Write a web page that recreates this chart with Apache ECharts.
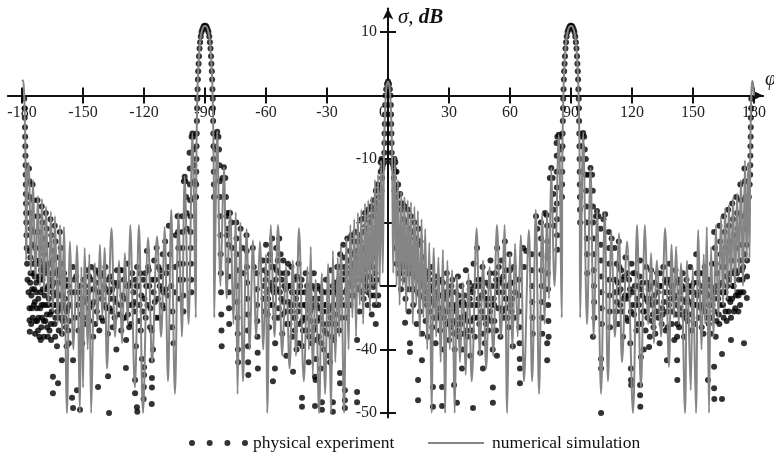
<!DOCTYPE html>
<html>
<head>
<meta charset="utf-8">
<script src="https://cdn.jsdelivr.net/npm/echarts@6.0.0/dist/echarts.min.js"></script>
<style>
html, body { margin: 0; padding: 0; background: #fff; }
#chart { width: 774px; height: 462px; }
</style>
</head>
<body>
<div id="chart"></div>
<script>
// tick and label positions
var xTickValues = [-180, -150, -120, -90, -60, -30, 30, 60, 90, 120, 150, 180];
var xLabelValues = [-180, -150, -120, -90, -60, -30, 0, 30, 60, 90, 120, 150, 180];
var yTickValues = [10, -10, -20, -30, -40, -50];

// numerical simulation, phi (deg) / sigma (dB)
var simLeft = [
  [-180, 2.2], [-179.5, 2.4], [-179.0, 0.5], [-178.6, -4], [-178.3, -10], [-178.0, -26],
  [-177.3, -12], [-176.6, -10.6], [-175.7, -28], [-174.6, -13.3], [-173.4, -29],
  [-172.2, -15.8], [-171.2, -30], [-170.2, -16.3], [-169.2, -31], [-168.2, -17.5], [-167.0, -33],
  [-165.8, -18.3], [-164.8, -34], [-163.8, -19], [-162.5, -36], [-161.3, -20.4], [-160.3, -38],
  [-159.4, -20.7], [-157.9, -50], [-156.4, -23], [-154.7, -40], [-153.0, -23.6], [-151.6, -50],
  [-150.8, -27], [-150.0, -46], [-149.2, -24], [-147.7, -40], [-146.9, -25], [-146.0, -50],
  [-144.2, -26.4], [-142.9, -36], [-141.7, -23.5], [-140.5, -35], [-139.4, -24], [-138.2, -43],
  [-136.0, -20.9], [-134.2, -38], [-132.3, -26], [-130.8, -39], [-129.4, -24.8], [-128.0, -36],
  [-126.8, -20.4], [-124.5, -46], [-122.5, -20.4], [-120.5, -50], [-118.0, -22.4], [-116.0, -42],
  [-113.6, -22.2], [-111.6, -38], [-109.9, -20.7], [-108.2, -45], [-106.6, -18], [-104.8, -47],
  [-103.0, -18.5], [-101.4, -38], [-100.0, -12.8], [-98.1, -36], [-96.2, -6], [-94.55, -35],
  [-94.3, -12], [-94.05, -5], [-93.75, 0], [-93.4, 3.5], [-92.9, 6.5], [-92.3, 8.8], [-91.6, 10.1],
  [-90.8, 10.8], [-90, 11], [-89.2, 10.8], [-88.4, 10.1], [-87.7, 8.8], [-87.1, 6.5], [-86.6, 3.5],
  [-86.25, 0], [-85.95, -5], [-85.7, -12], [-85.45, -35],
  [-84.0, -5.7], [-82.4, -30], [-80.7, -11.3], [-79.3, -32], [-77.7, -18], [-76.0, -36],
  [-74.9, -18.4], [-74.0, -47], [-72.6, -20], [-71.3, -45], [-69.5, -21], [-68.0, -40],
  [-66.4, -22.8], [-64.8, -38], [-63.0, -23], [-61.3, -40], [-60.0, -25], [-59.4, -50],
  [-57.6, -20.4], [-55.8, -38], [-54.1, -20.4], [-52.0, -41], [-50.2, -27], [-48.4, -43],
  [-46.8, -26], [-45.3, -41], [-43.8, -20.9], [-41.4, -45], [-39.6, -27], [-38.9, -40],
  [-38.0, -23.8], [-37.0, -44], [-35.6, -29], [-33.9, -50], [-32.5, -28], [-31.0, -47],
  [-29.5, -26.5], [-28.0, -50], [-27.1, -24.5], [-25.9, -42], [-24.7, -25.5], [-24.0, -38],
  [-23.2, -23.8], [-21.6, -50], [-20.4, -22.5], [-19.4, -40], [-18.5, -20.4], [-17.5, -35],
  [-16.6, -19.5], [-15.7, -38], [-14.8, -18.5], [-13.9, -33], [-13.1, -18], [-12.2, -36],
  [-11.3, -17], [-10.5, -31], [-9.7, -16.5], [-8.9, -34], [-8.1, -16], [-7.3, -30],
  [-6.4, -13.3], [-5.7, -33], [-4.9, -12.5], [-4.1, -30], [-3.4, -10.2], [-2.6, -28],
  [-2.0, -9], [-1.6, -4], [-1.1, 0], [-0.6, 1.6], [0, 2.2]
];

var simRight = [
  [0.6, 1.6], [1.1, 0], [1.6, -4], [2.0, -9], [2.6, -28],
  [3.4, -9.7], [4.2, -30], [4.9, -13.3], [5.7, -33], [6.5, -15.2], [7.3, -30],
  [8.1, -16], [8.9, -34], [9.7, -16.5], [10.5, -31], [11.3, -16.8], [12.2, -36],
  [13.0, -17.5], [13.9, -33], [14.7, -18.2], [15.6, -38], [16.5, -19.5], [17.4, -35],
  [18.3, -21], [19.3, -40], [20.3, -23.2], [21.5, -50], [22.5, -24], [23.7, -38],
  [24.8, -25.5], [25.9, -42], [27.0, -24.3], [28.1, -50], [29.2, -26], [30.4, -40],
  [31.5, -27.5], [32.8, -50], [34.0, -28.5], [35.4, -42], [36.8, -29.4], [38.2, -44],
  [39.6, -28], [41.2, -45], [43.6, -20.9], [45.2, -41], [46.7, -26], [48.3, -43],
  [50.0, -27], [51.7, -41], [53.6, -20.4], [55.5, -38], [57.3, -20.4], [58.6, -50],
  [60.0, -25], [61.2, -40], [62.5, -23.3], [63.8, -38], [65.3, -22], [66.9, -45],
  [69.3, -21.2], [70.9, -45], [72.7, -18], [74.3, -47], [75.9, -18.5], [77.0, -36],
  [78.2, -18.3], [79.2, -32], [80.3, -11.4], [81.9, -30], [84.0, -6.2], [85.45, -35],
  [85.7, -12], [85.95, -5], [86.25, 0], [86.6, 3.5], [87.1, 6.5], [87.7, 8.8], [88.4, 10.1],
  [89.2, 10.8], [90, 11], [90.8, 10.8], [91.6, 10.1], [92.3, 8.8], [92.9, 6.5], [93.4, 3.5],
  [93.75, 0], [94.05, -5], [94.3, -12], [94.55, -35],
  [96.0, -5.9], [97.9, -36], [99.6, -11.4], [101.2, -38], [102.8, -18], [104.8, -47],
  [106.6, -18.5], [108.2, -45], [109.9, -21.5], [111.6, -38], [113.6, -21.7], [115.1, -42],
  [117.6, -23], [120.5, -50], [122.5, -20.4], [124.4, -46], [126.4, -20.4], [128.0, -36],
  [129.4, -24.8], [130.8, -39], [132.3, -26], [134.3, -38], [136.3, -20.9], [138.2, -42.7],
  [139.5, -23.5], [140.6, -35], [141.7, -23.8], [143.0, -36], [144.1, -26.4], [146.1, -50],
  [147.1, -26], [148.9, -46.4], [149.9, -27], [151.5, -50], [152.6, -21.2], [154.2, -40],
  [155.3, -25], [156.0, -36], [156.8, -20.7], [157.9, -50], [158.9, -23.8], [160.1, -38],
  [161.3, -20.4], [162.5, -35], [163.8, -19.1], [164.8, -33], [165.8, -17.7], [166.8, -32],
  [167.7, -17.2], [168.7, -30], [169.7, -16.1], [170.7, -31], [171.7, -15.4], [172.6, -28],
  [173.6, -13.3], [174.6, -30], [175.6, -10.2], [176.4, -26], [177.2, -10.5], [177.8, -25.6],
  [178.2, -9], [178.6, -1], [179.1, 2.3], [179.6, 1.8], [180, 0]
];

// physical experiment: dots along the main lobes at 0, +-90, +-180
var expLobes = [
  [-178.9, -0.5], [-178.75, -2], [-178.65, -3.5], [-178.55, -5], [-178.45, -6.5], [-178.4, -8],
  [-178.3, -9.5], [-178.25, -11], [-178.2, -12.5], [-178.15, -14], [-178.1, -15.5], [-178.05, -17],
  [-178.0, -18.5], [-177.9, -20], [-177.8, -22], [-177.7, -24], [-177.5, -26.5], [-177.3, -29],
  [-90.3, 11], [-90.8, 10.8], [-91.3, 10.4], [-91.7, 10], [-92.1, 9.3], [-92.4, 8.4], [-92.7, 7.4],
  [-92.95, 6.2], [-93.15, 5], [-93.35, 3.8], [-93.5, 2.5], [-93.65, 1], [-93.8, -0.5], [-93.9, -2],
  [-94.0, -4], [-94.1, -6], [-94.17, -8], [-94.23, -10], [-94.3, -12], [-94.35, -14], [-94.4, -16],
  [-89.7, 11], [-89.2, 10.8], [-88.7, 10.4], [-88.3, 10], [-87.9, 9.3], [-87.6, 8.4], [-87.3, 7.4],
  [-87.05, 6.2], [-86.85, 5], [-86.65, 3.8], [-86.5, 2.5], [-86.35, 1], [-86.2, -0.5], [-86.1, -2],
  [-86.0, -4], [-85.9, -6], [-85.83, -8], [-85.77, -10], [-85.7, -12], [-85.65, -14], [-85.6, -16],
  [-1.85, -10.5], [-1.8, -9], [-1.75, -7.5], [-1.7, -6], [-1.6, -4.5], [-1.5, -3], [-1.4, -1.5],
  [-1.2, 0], [-0.9, 1], [-0.5, 1.8], [0, 2.2], [0.5, 1.8], [0.9, 1], [1.2, 0], [1.4, -1.5],
  [1.5, -3], [1.6, -4.5], [1.7, -6], [1.75, -7.5], [1.8, -9], [1.85, -10.5],
  [-3.6, -10.5], [-3.2, -10], [-2.8, -11.5], [2.8, -11.5], [3.2, -10], [3.6, -10.5], [4.2, -12],
  [89.7, 11], [89.2, 10.8], [88.7, 10.4], [88.3, 10], [87.9, 9.3], [87.6, 8.4], [87.3, 7.4],
  [87.05, 6.2], [86.85, 5], [86.65, 3.8], [86.5, 2.5], [86.35, 1], [86.2, -0.5], [86.1, -2],
  [86.0, -4], [85.9, -6], [85.83, -8], [85.77, -10], [85.7, -12], [85.65, -14], [85.6, -16],
  [90.3, 11], [90.8, 10.8], [91.3, 10.4], [91.7, 10], [92.1, 9.3], [92.4, 8.4], [92.7, 7.4],
  [92.95, 6.2], [93.15, 5], [93.35, 3.8], [93.5, 2.5], [93.65, 1], [93.8, -0.5], [93.9, -2],
  [94.0, -4], [94.1, -6], [94.17, -8], [94.23, -10], [94.3, -12], [94.35, -14], [94.4, -16],
  [94.45, -18], [94.5, -20],
  [178.7, -0.5], [178.6, -2], [178.5, -3.5], [178.45, -5], [178.4, -6.5], [178.3, -8],
  [178.25, -9.5], [178.2, -11], [178.15, -12.5], [177.9, -14], [177.5, -16], [177.0, -18]
];

var expLeft = [
  [-176.6, -11.5], [-176.4, -13.5], [-176.2, -16], [-176.0, -18.5], [-175.7, -21],
  [-174.8, -14], [-174.5, -16.5], [-174.2, -19], [-173.9, -21.5], [-173.5, -24],
  [-172.4, -16.5], [-172.0, -19], [-171.7, -21.5], [-171.3, -24],
  [-170.3, -17.5], [-169.9, -20], [-169.5, -22.5], [-169.1, -25],
  [-168.3, -18.5], [-167.9, -21], [-167.5, -23.5], [-166.0, -19.5], [-165.6, -22], [-165.2, -24.5],
  [-163.9, -20.5], [-163.5, -23], [-163.1, -25.5], [-161.4, -21.5], [-161.0, -24], [-160.6, -26.5],
  [-176.8, -31], [-176.3, -33.5], [-175.8, -28], [-175.5, -36], [-175.0, -30.5], [-174.6, -26.5],
  [-174.2, -33], [-173.8, -28.5], [-173.3, -35.5], [-172.9, -31], [-172.5, -26.5], [-172.1, -37],
  [-171.6, -29], [-171.1, -33.5], [-170.7, -27.5], [-170.2, -35], [-169.8, -30.5], [-169.2, -38],
  [-168.7, -28], [-168.2, -33], [-167.7, -36.5], [-167.2, -30], [-166.7, -26.5], [-166.2, -34.5],
  [-165.7, -38.5], [-165.1, -31], [-164.5, -28], [-164.0, -36], [-163.4, -33], [-162.8, -39.5],
  [-162.2, -29.5], [-161.6, -35], [-161.0, -31.5], [-160.3, -37.5], [-159.7, -33], [-159.0, -30],
  [-158.4, -36.5], [-157.7, -33.5], [-157.0, -39], [-156.3, -31],
  [-176.5, -24.5], [-176.0, -29.5], [-175.2, -33.5], [-174.9, -23.5], [-174.0, -30.5], [-173.6, -37.5],
  [-173.1, -26], [-172.7, -33.5], [-172.2, -28.5], [-171.9, -35], [-171.4, -26], [-170.9, -31],
  [-170.5, -36.5], [-170.0, -29], [-169.5, -33], [-169.0, -26.5], [-168.5, -35.5], [-168.0, -30.5],
  [-167.5, -27], [-167.0, -33], [-166.5, -37], [-166.0, -29], [-165.4, -34], [-164.9, -26],
  [-164.2, -31.5], [-163.7, -38], [-163.1, -28], [-162.5, -34], [-162.0, -31.5], [-161.3, -28.5],
  [-160.7, -33.5], [-160.0, -35.5], [-159.3, -28], [-158.8, -32], [-158.1, -39.5], [-157.4, -30],
  [-156.8, -35.5],
  [-176.3, -35.4], [-176.2, -37.2], [-170.8, -38.5], [-164.8, -44.3], [-164.8, -46.9], [-162.3, -45.3],
  [-160.4, -41.7], [-155.4, -47.6], [-154.9, -49.2], [-154.9, -41.7], [-153.0, -46.4], [-151.5, -49.5],
  [-142.6, -45.9], [-137.2, -50], [-137.7, -44.2], [-128.9, -42.9], [-124.4, -44.8], [-124.4, -46.9],
  [-123.5, -49.1], [-123.3, -49.8], [-120.0, -42.8], [-120.0, -44], [-120.1, -45.9], [-120.2, -47.8],
  [-116.1, -44.5], [-116.1, -46], [-116.2, -48.6], [-116.2, -41.7],
  [-155.0, -27], [-154.5, -31], [-154.0, -35], [-153.4, -28.5], [-152.8, -33], [-152.2, -37],
  [-151.6, -30], [-151.0, -34.5], [-150.4, -39], [-149.8, -29], [-149.2, -32.5], [-148.6, -36],
  [-148.0, -27.5], [-147.4, -31], [-146.8, -35.5], [-146.2, -29], [-145.6, -33], [-145.0, -38],
  [-144.4, -30.5], [-143.8, -27.5], [-143.2, -34], [-142.6, -31], [-142.0, -37], [-141.4, -28.5],
  [-140.8, -32], [-140.2, -35.5], [-139.6, -30], [-139.0, -27], [-138.4, -33.5], [-137.8, -37.5],
  [-137.2, -31], [-136.6, -28.5], [-136.0, -34], [-135.4, -36.5], [-134.8, -29.5], [-134.2, -32],
  [-133.6, -40], [-133.0, -30], [-132.4, -34.5], [-131.8, -27.5], [-131.2, -37], [-130.6, -31.5],
  [-130.0, -29], [-129.4, -35], [-128.8, -38.5], [-128.2, -26.5], [-127.6, -30], [-127.0, -33],
  [-126.4, -36], [-125.8, -28], [-125.2, -31], [-124.6, -34], [-124.0, -39.5], [-123.4, -27],
  [-122.8, -30], [-122.2, -33], [-121.6, -37], [-121.0, -41.5], [-120.4, -29], [-119.8, -32],
  [-119.2, -35], [-118.6, -24.5], [-118.0, -27], [-117.4, -30], [-116.8, -33.5], [-116.2, -37],
  [-115.6, -40], [-115.0, -26], [-114.4, -29], [-113.8, -24], [-113.2, -32], [-112.6, -35],
  [-112.0, -27.5], [-111.4, -30.5], [-110.8, -25], [-110.2, -33.5], [-109.6, -23], [-109.0, -28],
  [-108.4, -31.5], [-107.8, -20.5], [-107.2, -25], [-106.6, -30], [-106.0, -34],
  [-149.5, -35], [-148.3, -32], [-147.0, -28.5], [-145.3, -30.5], [-144.0, -36], [-142.3, -28],
  [-141.0, -35], [-139.3, -33], [-137.5, -29], [-136.3, -32], [-134.5, -35], [-133.3, -27.5],
  [-131.5, -33], [-130.3, -35], [-128.5, -30], [-127.3, -36.5], [-125.5, -33], [-124.3, -29],
  [-122.5, -35.5], [-121.3, -31.5], [-119.5, -28], [-118.3, -33], [-117.0, -36.5], [-115.3, -31],
  [-114.0, -35], [-112.3, -30], [-111.0, -33], [-109.3, -30.5], [-108.0, -27],
  [-106.2, -36.5], [-105.5, -39], [-104.4, -22], [-104.6, -27], [-104.8, -31],
  [-103.5, -19], [-103.3, -21.5], [-103.1, -24], [-102.9, -26.5], [-102.6, -29], [-102.4, -32],
  [-101.2, -19], [-101.1, -21.5], [-101.0, -24], [-100.9, -26.5], [-100.8, -29], [-100.7, -31.5], [-100.6, -34],
  [-100.4, -13.5], [-100.0, -12.8], [-99.6, -13.5], [-99.3, -16], [-99.1, -18.5], [-98.9, -21],
  [-97.6, -9], [-97.5, -11.5], [-97.4, -14], [-97.3, -16.5], [-97.2, -19], [-97.1, -21.5],
  [-97.0, -24], [-96.9, -26.5], [-96.8, -29], [-96.7, -31],
  [-96.6, -6.5], [-96.2, -6], [-95.8, -6.5], [-95.5, -8.5], [-95.3, -11], [-95.1, -13.5], [-94.9, -16],
  [-84.9, -8.5], [-84.6, -6.5], [-84.0, -5.7], [-83.4, -6.5], [-83.1, -8.5], [-82.9, -11],
  [-82.7, -13.5], [-82.6, -16], [-82.5, -19], [-82.4, -22], [-82.3, -25], [-82.2, -28],
  [-82.1, -31], [-82.0, -34.5], [-81.9, -37], [-81.8, -39.5],
  [-81.4, -13], [-80.7, -11.3], [-80.0, -13], [-79.7, -16], [-79.4, -19], [-79.2, -22],
  [-78.8, -18.5], [-78.7, -21], [-78.6, -23.5], [-78.5, -26], [-78.4, -28.5], [-78.3, -31],
  [-78.2, -33.5], [-78.1, -36], [-77.7, -18.5], [-77.0, -20], [-76.6, -24],
  [-74.6, -20], [-74.5, -22.5], [-74.4, -25], [-74.3, -27.5], [-74.2, -30], [-74.1, -32.5],
  [-74.0, -35], [-73.9, -37.5], [-73.8, -40], [-73.7, -42],
  [-69.6, -22], [-69.5, -24.5], [-69.4, -27], [-69.3, -29.5], [-69.2, -32], [-69.1, -34.5],
  [-69.0, -37], [-68.9, -39.5], [-68.8, -42], [-68.7, -44],
  [-64.6, -28], [-64.5, -30.5], [-64.4, -33], [-64.3, -35.5], [-64.2, -38], [-64.1, -40.5], [-64.0, -43],
  [-72.5, -21], [-71.5, -24], [-71.0, -28], [-66.5, -24], [-66.0, -27],
  [-61.5, -26], [-61.0, -30], [-60.5, -34], [-60.0, -23.5], [-59.5, -28], [-59.0, -32],
  [-58.5, -36.5], [-58.0, -25], [-57.5, -29.5], [-57.0, -22.5], [-56.5, -33], [-56.0, -27],
  [-55.5, -39], [-55.0, -24], [-54.5, -30.5], [-54.0, -35], [-53.5, -22.5], [-53.0, -28],
  [-52.5, -32], [-52.0, -37.5], [-51.5, -26], [-51.0, -30], [-50.5, -34], [-50.0, -41],
  [-49.5, -28], [-49.0, -32.5], [-48.5, -36], [-48.0, -30], [-47.5, -27], [-47.0, -38],
  [-46.5, -33], [-46.0, -29], [-45.5, -35], [-45.0, -40], [-44.5, -31], [-44.0, -26.5],
  [-43.5, -36], [-43.0, -33], [-42.5, -29], [-42.0, -39.5], [-41.5, -35], [-41.0, -31],
  [-40.5, -28], [-40.0, -37], [-39.5, -33.5], [-39.0, -42], [-38.5, -30], [-38.0, -35.5],
  [-37.5, -39], [-37.0, -32], [-36.5, -28], [-36.0, -36.5], [-35.5, -41.5], [-35.0, -33],
  [-34.5, -30], [-34.0, -38], [-33.5, -35], [-33.0, -43], [-32.5, -31], [-32.0, -36],
  [-31.5, -40], [-31.0, -33], [-30.5, -29], [-30.0, -37.5], [-29.5, -34], [-29.0, -41],
  [-28.5, -31], [-28.0, -27.5], [-27.5, -36], [-27.0, -33], [-26.5, -38.5], [-26.0, -29.5],
  [-25.5, -34.5], [-25.0, -27], [-24.5, -31.5], [-24.0, -37], [-23.5, -25], [-23.0, -29],
  [-22.5, -33], [-22.0, -23.5], [-21.5, -27], [-21.0, -31], [-20.5, -35], [-20.0, -22.5],
  [-19.5, -26], [-19.0, -29.5], [-18.5, -33], [-18.0, -22], [-17.5, -25], [-17.0, -28],
  [-16.5, -31.5], [-16.0, -21.5], [-15.5, -24.5], [-15.0, -27.5], [-14.5, -30.5], [-14.0, -34],
  [-13.5, -23], [-13.0, -26], [-12.5, -29], [-12.0, -32], [-11.5, -24], [-11.0, -27],
  [-10.5, -30], [-10.0, -33], [-9.5, -25.5], [-9.0, -28.5], [-8.5, -31.5], [-8.0, -34.5],
  [-7.5, -27], [-7.0, -30], [-6.5, -33], [-6.0, -36], [-5.5, -29], [-4.8, -31.5], [-4.8, -33],
  [-60.8, -27.5], [-59.8, -31], [-58.8, -26], [-57.8, -33], [-56.8, -30], [-55.8, -35],
  [-54.8, -27.5], [-53.8, -33.5], [-52.8, -25], [-51.8, -34.5], [-50.8, -28], [-49.8, -36],
  [-48.8, -30], [-47.8, -34], [-46.8, -31], [-45.8, -37], [-44.8, -28.5], [-43.8, -39],
  [-42.8, -31], [-41.8, -37], [-40.8, -33], [-39.8, -30], [-38.8, -38], [-37.8, -33.5],
  [-36.8, -37], [-35.8, -30.5], [-34.8, -35.5], [-33.8, -32], [-32.8, -39], [-31.8, -34],
  [-30.8, -31], [-29.8, -36], [-28.8, -33.5], [-27.8, -38], [-26.8, -31], [-25.8, -36],
  [-24.8, -33], [-23.8, -27], [-22.8, -35], [-21.8, -25.5], [-20.8, -33], [-19.8, -28],
  [-18.8, -24.5], [-17.8, -30], [-16.8, -26.5], [-15.8, -29], [-14.8, -25.5], [-13.8, -28],
  [-12.8, -31], [-11.8, -26], [-10.8, -28.5], [-9.8, -31], [-8.8, -26.5], [-7.8, -29], [-6.8, -31.5],
  [-2.6, -11], [-2.9, -13], [-3.2, -15], [-3.6, -12], [-4.0, -14.5], [-4.5, -16], [-5.0, -14],
  [-5.5, -17], [-6.0, -15], [-6.6, -18], [-7.2, -16.5], [-7.8, -19], [-8.4, -17.5], [-9.0, -20],
  [-9.8, -18], [-10.5, -21], [-11.3, -18.5], [-12.2, -21.5], [-13.0, -19.5], [-14.0, -22],
  [-56.6, -45], [-55.6, -43], [-46.7, -43.5], [-42.3, -47.6], [-42.3, -49], [-35.9, -48.9],
  [-35.9, -44.3], [-35.6, -44.8], [-32.5, -48.3], [-32.5, -49.5], [-28.5, -42], [-27.1, -48.3],
  [-27.1, -49.8], [-23.6, -43.7], [-23.6, -45.3], [-21.2, -46.4], [-21.2, -48], [-21.2, -49.2],
  [-15.2, -46.7], [-15.2, -48.3], [-15.2, -38.5]
];

// extra dots where the experimental cloud is densest (left half)
var expFillLeft = [
  [-175.9, -25.5], [-175.4, -31.5], [-174.7, -35], [-174.4, -28], [-173.7, -32.5], [-173.0, -29.5],
  [-172.6, -35.5], [-172.0, -32], [-171.5, -38], [-171.0, -28.5], [-170.4, -33], [-169.7, -27],
  [-169.3, -35.5], [-168.9, -31.5], [-168.4, -27.5], [-167.8, -34.5], [-167.3, -38], [-166.8, -32],
  [-166.3, -28], [-165.8, -36], [-165.3, -30], [-164.7, -33], [-164.1, -29.5], [-163.6, -35],
  [-163.0, -31], [-162.4, -27.5], [-161.9, -37], [-161.2, -33], [-160.6, -29.5], [-159.9, -31.5],
  [-159.2, -35], [-158.6, -29], [-158.0, -34], [-157.3, -37], [-156.6, -33],
  [-154.2, -29], [-152.5, -31], [-150.7, -32], [-148.9, -30], [-147.1, -33.5], [-145.9, -27],
  [-144.7, -32.5], [-143.5, -29.5], [-141.7, -31], [-140.5, -28], [-138.7, -30.5], [-136.9, -33.5],
  [-135.7, -30.5], [-133.9, -32.5], [-132.7, -29.5], [-130.9, -27.5], [-129.7, -32], [-127.9, -34.5],
  [-126.7, -29.5], [-124.9, -32.5], [-123.7, -30], [-121.9, -28], [-120.7, -34], [-118.9, -30],
  [-117.7, -27.5], [-115.9, -29], [-114.7, -32.5], [-112.9, -27], [-111.7, -28.5], [-110.5, -31],
  [-61.2, -32], [-60.2, -29], [-59.2, -34.5], [-58.2, -30.5], [-57.2, -27], [-56.2, -31],
  [-55.2, -29], [-54.2, -26], [-53.2, -31], [-52.2, -29], [-51.2, -32.5], [-50.2, -30.5],
  [-49.2, -26.5], [-48.2, -33], [-47.2, -31], [-46.2, -35], [-45.2, -32], [-44.2, -34],
  [-43.2, -30], [-42.2, -35.5], [-41.2, -33], [-40.2, -35], [-39.2, -32], [-38.2, -34],
  [-37.2, -30], [-36.2, -33], [-35.2, -38.5], [-34.2, -33.5], [-33.2, -30.5], [-32.2, -34],
  [-31.2, -37], [-30.2, -33], [-29.2, -31], [-28.2, -35], [-27.2, -30], [-26.2, -33],
  [-25.2, -30.5], [-24.2, -29], [-23.2, -32], [-22.2, -29], [-21.2, -28], [-20.2, -30.5],
  [-19.2, -31.5], [-18.2, -27], [-17.2, -23], [-16.2, -27], [-15.2, -23], [-14.2, -26],
  [-13.2, -24.5], [-12.2, -27.5], [-11.2, -29], [-10.2, -24], [-9.2, -27], [-8.2, -24.5],
  [-7.2, -25.5], [-6.2, -28]
];

var expRight = [
  [2.6, -11], [2.9, -13], [3.2, -15], [3.6, -12], [4.0, -14.5], [4.5, -16], [5.0, -14],
  [5.5, -17], [6.0, -15.5], [6.6, -18], [7.2, -17], [7.8, -19.5], [8.4, -17.5], [9.0, -20],
  [9.8, -18], [10.5, -21], [11.3, -19], [12.2, -21.5], [13.0, -20], [14.0, -22.5], [15.0, -21], [16.0, -23],
  [3.6, -24], [4.2, -26.5], [4.8, -23.5], [5.3, -28], [5.9, -25], [6.4, -30.5], [7.0, -26.5],
  [7.5, -23], [8.0, -29], [8.6, -32], [9.1, -25.5], [9.7, -28], [10.2, -34], [10.8, -22.5],
  [11.3, -30.5], [11.9, -26], [12.4, -33], [13.0, -28.5], [13.5, -24.5], [14.1, -36], [14.6, -31],
  [15.2, -27], [15.7, -34], [16.3, -29.5], [16.8, -37.5], [17.4, -25.5], [17.9, -32], [18.5, -35.5],
  [19.0, -28.5], [19.6, -38], [20.1, -31], [20.7, -34], [21.2, -27], [21.8, -36.5], [22.3, -30],
  [22.9, -33], [23.4, -39], [24.0, -28.5], [24.5, -35], [25.1, -31.5], [25.6, -37], [26.2, -29],
  [26.7, -33.5], [27.3, -40], [27.8, -31], [28.4, -36], [28.9, -28], [29.5, -34], [30.0, -38.5],
  [30.6, -31], [31.1, -36.5], [31.7, -29], [32.2, -33.5], [32.8, -40], [33.3, -31], [33.9, -36],
  [34.4, -28.5], [35.0, -38], [35.5, -33], [36.1, -30], [36.6, -40], [37.2, -35], [37.7, -31.5],
  [38.3, -27.5], [38.8, -37], [39.4, -33], [39.9, -29.5], [40.5, -41], [41.0, -35.5], [41.6, -31],
  [42.1, -26.5], [42.7, -38], [43.2, -33], [43.8, -24], [44.3, -29], [44.9, -36], [45.4, -40.5],
  [46.0, -31.5], [46.5, -27], [47.1, -35], [47.6, -39], [48.2, -29.5], [48.7, -33], [49.3, -37],
  [49.8, -30], [50.4, -26], [50.9, -35.5], [51.5, -40], [52.0, -32], [52.6, -28], [53.1, -37],
  [53.7, -24], [54.2, -33.5], [54.8, -29], [55.3, -38], [55.9, -26], [56.4, -31], [57.0, -35],
  [57.5, -23], [58.1, -27.5], [58.6, -32], [59.2, -36.5], [59.7, -25], [60.3, -29.5], [60.8, -34],
  [61.4, -39.5], [61.9, -27], [62.5, -31],
  [6.8, -28], [7.8, -25], [8.8, -27], [9.8, -30.5], [10.5, -26], [11.6, -28], [12.7, -30.5],
  [13.8, -26.5], [14.9, -29], [15.9, -31.5], [17.0, -28], [18.1, -30], [19.2, -33], [20.4, -29],
  [21.5, -32], [22.6, -35], [23.7, -31], [24.8, -33.5], [25.9, -35], [27.0, -29.5], [28.1, -34],
  [29.2, -31.5], [30.3, -35.5], [31.4, -33], [32.5, -37.5], [33.6, -34], [34.7, -31.5], [35.8, -36],
  [36.9, -32.5], [38.0, -34.5], [39.1, -38], [40.2, -32], [41.3, -37], [42.4, -30], [43.5, -35],
  [44.6, -32], [45.7, -29], [46.8, -37.5], [47.9, -32], [49.0, -35], [50.1, -28], [51.2, -33],
  [52.3, -35.5], [53.4, -30], [54.5, -27], [55.6, -33.5], [56.7, -28.5], [57.8, -32], [58.9, -35],
  [60.0, -27.5], [61.1, -32], [62.2, -35],
  [8.4, -35.8], [10.8, -39], [10.8, -40.4], [14.8, -44.8], [14.8, -48], [16.7, -41.7],
  [22.1, -45.9], [22.1, -49], [26.6, -45.9], [26.6, -48.9], [32.5, -45.6], [33.9, -48.4],
  [36.4, -43], [41.8, -49.2], [46.7, -43], [51.6, -46], [51.6, -48.4], [53.6, -41],
  [64.3, -29], [64.4, -31.5], [64.5, -34], [64.6, -36.5], [64.7, -39], [64.8, -41.5], [64.9, -43], [64.9, -45.3],
  [66.5, -24], [67.0, -27], [68.0, -24.5],
  [70.7, -25], [70.8, -27.5], [70.9, -30], [71.0, -32.5], [71.1, -35], [71.2, -37.5],
  [72.8, -19], [73.4, -21],
  [75.2, -20], [75.3, -22.5], [75.4, -25], [75.5, -27.5], [75.6, -30], [75.7, -32.5], [75.8, -35], [75.9, -37.5],
  [77.2, -18.5], [78.0, -18.8],
  [78.3, -20.5], [78.4, -23], [78.5, -25.5], [78.6, -28], [78.7, -30.5], [78.8, -33], [78.9, -35.5],
  [79.0, -38], [78.3, -39], [78.3, -41.7],
  [79.6, -13], [80.3, -11.4], [81.0, -13], [81.3, -15.5], [81.5, -18], [81.7, -20.5],
  [82.9, -7.5], [83.3, -6.5], [84.0, -6.2], [84.7, -6.5], [85.0, -8.5],
  [83.0, -9.5], [83.0, -12], [83.1, -14.5], [83.1, -17], [83.2, -19.5], [83.2, -22], [83.3, -24.3],
  [95.3, -8], [95.5, -6.5], [96.0, -5.9], [96.5, -6.5], [96.8, -8.5],
  [97.3, -10], [97.4, -12.5], [97.5, -15], [97.6, -17.5], [97.7, -20], [97.8, -22.5], [97.9, -25], [98.0, -28],
  [98.8, -12.5], [99.6, -11.4], [100.4, -12.5],
  [100.7, -15], [100.8, -17.5], [100.9, -20], [101.0, -22.5], [101.1, -25], [101.2, -27.5],
  [101.3, -30], [101.4, -32.5], [101.5, -35], [100.8, -38],
  [102.3, -19], [102.8, -18.2], [103.5, -19],
  [104.6, -21], [104.7, -23.5], [104.8, -26], [104.9, -28.5], [105.0, -31], [105.1, -33.5],
  [105.2, -36], [104.8, -43], [104.8, -50], [104.8, -41.5],
  [106.0, -19.5], [106.8, -18.7],
  [108.6, -21.5], [108.7, -24], [108.8, -26.5], [108.9, -29], [109.0, -31.5], [109.1, -34], [109.2, -36.5],
  [110.0, -22.5], [111.5, -24], [112.5, -26.5], [113.5, -23],
  [112.0, -29], [112.6, -32.5], [113.2, -36], [113.8, -27], [114.4, -30.5], [115.0, -34],
  [115.6, -38], [116.2, -28.5], [116.8, -25.5], [117.4, -32], [118.0, -35.5], [118.6, -29],
  [119.2, -39], [119.8, -26.5], [120.4, -31], [121.0, -34.5], [121.6, -28], [122.2, -37],
  [122.8, -30], [123.4, -33], [124.0, -26], [124.6, -36], [125.2, -29.5], [125.8, -40],
  [126.4, -32], [127.0, -27], [127.6, -35], [128.2, -30.5], [128.8, -38], [129.4, -27.5],
  [130.0, -33], [130.6, -36.5], [131.2, -29.5], [131.8, -32.5], [132.4, -28], [133.0, -35],
  [133.6, -39], [134.2, -30], [134.8, -33.5], [135.4, -27], [136.0, -31], [136.6, -37],
  [137.2, -34], [137.8, -29], [138.4, -26.5], [139.0, -32], [139.6, -36], [140.2, -30],
  [140.8, -38.5], [141.4, -27.5], [142.0, -33], [142.6, -29.5], [143.2, -36.5], [143.8, -31],
  [144.4, -34.5], [145.0, -28], [145.6, -38], [146.2, -32.5], [146.8, -29], [147.4, -35.5],
  [148.0, -31], [148.6, -27], [149.2, -37], [149.8, -33], [150.4, -29.5], [151.0, -36],
  [151.6, -25], [152.2, -31.5], [152.8, -35], [153.4, -28], [154.0, -33.5], [154.6, -30],
  [155.2, -37.5], [155.8, -27], [156.4, -31], [157.0, -35], [157.6, -29], [158.2, -33],
  [158.8, -37.5], [159.4, -26.5], [160.0, -30.5], [160.6, -34], [161.2, -38], [161.8, -28],
  [162.4, -32], [163.0, -36], [163.6, -25], [164.2, -29.5], [164.8, -33], [165.4, -27],
  [166.0, -31], [166.6, -35.5], [167.2, -24.5], [167.8, -29], [168.4, -32.5], [169.0, -26],
  [169.6, -30], [170.2, -34], [170.8, -27.5], [171.4, -24], [172.0, -31], [172.6, -29],
  [173.2, -26], [173.8, -23.5], [174.4, -29],
  [112.3, -34], [113.5, -31], [114.7, -27.5], [115.9, -32], [117.1, -35], [118.3, -31.5],
  [119.5, -34], [120.7, -28], [121.9, -33], [123.1, -36], [124.3, -30.5], [125.5, -34],
  [126.7, -37], [127.9, -32.5], [129.1, -30], [130.3, -34.5], [131.5, -37.5], [132.7, -31],
  [133.9, -28], [135.1, -34.5], [136.3, -29], [137.5, -36.5], [138.7, -31], [139.9, -34],
  [141.1, -31.5], [142.3, -36], [143.5, -33.5], [144.7, -30], [145.9, -35], [147.1, -32],
  [148.3, -34.5], [149.5, -30], [150.7, -33], [151.9, -28], [153.1, -31], [154.3, -36.5],
  [155.5, -33], [156.7, -29], [157.9, -31.5], [159.1, -35], [160.3, -32], [161.5, -30],
  [162.7, -34.5], [163.9, -31], [165.1, -35], [166.3, -28.5], [167.5, -32], [168.7, -35],
  [169.9, -28], [171.1, -31.5], [172.3, -34], [173.5, -31], [174.7, -27],
  [160.4, -21.5], [160.8, -24], [161.2, -26.5], [163.0, -20.5], [163.4, -23],
  [165.2, -19], [165.6, -21.5], [166.0, -24], [167.3, -18], [167.7, -20.5], [168.1, -23],
  [169.3, -17], [169.7, -19.5], [170.1, -22], [171.3, -16], [171.7, -18.5], [172.1, -21],
  [173.3, -14], [173.6, -16.5], [173.9, -19],
  [175.3, -11.5], [175.6, -13.5], [175.9, -16], [176.1, -18.5], [176.3, -21], [176.5, -23.5],
  [176.6, -26], [176.6, -28.5], [176.5, -31.9],
  [119.5, -43], [119.5, -44.8], [119.6, -45.6], [124.0, -45.6], [124.0, -47.2], [124.1, -49],
  [124.4, -41.2], [128.4, -39.6], [137.2, -41.7], [142.2, -38], [142.2, -41.7], [142.3, -44.8],
  [157.4, -44.8], [160.4, -42.7], [160.4, -46.1], [160.5, -47.8], [164.3, -40.7], [164.3, -47.8],
  [168.7, -38.5], [175.1, -39]
];

// extra dots where the experimental cloud is densest (right half)
var expFillRight = [
  [6.2, -27], [7.2, -24.5], [8.2, -26], [9.2, -23.5], [10.2, -27], [11.2, -24], [12.2, -28],
  [13.2, -24.5], [14.2, -26.5], [15.2, -23.5], [16.2, -27], [17.2, -30], [18.2, -27.5], [19.2, -31],
  [20.2, -28], [21.2, -30.5], [22.2, -32.5], [23.2, -29.5], [24.2, -32], [25.2, -34.5], [26.2, -31.5],
  [27.2, -35], [28.2, -32], [29.2, -36], [30.2, -33], [31.2, -30], [32.2, -35.5], [33.2, -33],
  [34.2, -37], [35.2, -35], [36.2, -32.5], [37.2, -37.5], [38.2, -33], [39.2, -35.5], [40.2, -30.5],
  [41.2, -33], [42.2, -35], [43.2, -30], [44.2, -33], [45.2, -30], [46.2, -34], [47.2, -31],
  [48.2, -36], [49.2, -32], [50.2, -34], [51.2, -30], [52.2, -33], [53.2, -29], [54.2, -31],
  [55.2, -29.5], [56.2, -34], [57.2, -30], [58.2, -33.5], [59.2, -30], [60.2, -33], [61.2, -29.5],
  [111.8, -31], [113.0, -29.5], [114.2, -33], [115.4, -29], [116.6, -31.5], [117.8, -28],
  [119.0, -30.5], [120.2, -33], [121.4, -30], [122.6, -32], [123.8, -28.5], [125.0, -31.5],
  [126.2, -34], [127.4, -29.5], [128.6, -32], [129.8, -35.5], [131.0, -31.5], [132.2, -34],
  [133.4, -30], [134.6, -36], [135.8, -32.5], [137.0, -29.5], [138.2, -33], [139.4, -30],
  [140.6, -32], [141.8, -34.5], [143.0, -29], [144.2, -32], [145.4, -30.5], [146.6, -34],
  [147.8, -30], [149.0, -32.5],
  [150.2, -31], [151.2, -33], [152.4, -29.5], [153.6, -33], [154.8, -28], [155.8, -34],
  [156.8, -31.5], [157.8, -36], [158.6, -30], [159.6, -33], [160.6, -31], [161.6, -35.5],
  [162.6, -30], [163.4, -33], [164.4, -27], [165.2, -31], [166.0, -34], [166.8, -30],
  [167.6, -34], [168.4, -28], [169.2, -32], [170.0, -30], [170.8, -33.5], [171.6, -28],
  [172.4, -31.5], [173.2, -33], [174.0, -27.5], [174.8, -31], [175.4, -25]
];

var simulation = simLeft.concat(simRight);
var experiment = expLobes.concat(expLeft, expFillLeft, expRight, expFillRight);

var serif = '"Liberation Serif", "Times New Roman", serif';
var axisColor = '#111';
var dotsIcon = 'path://M0,3A3,3,0,1,1,6,3A3,3,0,1,1,0,3Z M17.7,3A3,3,0,1,1,23.7,3A3,3,0,1,1,17.7,3Z M35.4,3A3,3,0,1,1,41.4,3A3,3,0,1,1,35.4,3Z M53,3A3,3,0,1,1,59,3A3,3,0,1,1,53,3Z';

// grid: x -187..184.5 over 7.8..763.1 px, y -50.7..13.7 over 417.45..8.5 px
// axes are shifted onto the zero lines with offsets
var chart = echarts.init(document.getElementById('chart'));
var option = {
  animation: false,
  backgroundColor: '#fff',
  textStyle: { fontFamily: serif },
  grid: { left: 7.8, right: 10.9, top: 8.5, bottom: 44.55, containLabel: false, outerBoundsMode: 'none' },
  legend: [{
    left: 189, top: 434, padding: 0, itemWidth: 59, itemHeight: 6, selectedMode: false,
    data: [{ name: 'physical experiment', icon: dotsIcon }],
    textStyle: { fontFamily: serif, fontSize: 17.5, color: '#111' }
  }, {
    left: 428, top: 434, padding: 0, itemWidth: 56, itemHeight: 2, selectedMode: false,
    data: [{ name: 'numerical simulation', icon: 'rect' }],
    textStyle: { fontFamily: serif, fontSize: 17.5, color: '#111', padding: [0, 0, 0, 3] }
  }],
  xAxis: [{
    type: 'value', min: -187, max: 184.5, position: 'bottom', offset: -321.95,
    axisLine: { onZero: false, symbol: ['none', 'arrow'], symbolSize: [8, 11], lineStyle: { color: axisColor, width: 2 } },
    axisTick: { show: true, length: 8, customValues: xTickValues, lineStyle: { color: axisColor, width: 2 } },
    axisLabel: {
      customValues: xLabelValues, margin: 9, fontSize: 16, fontFamily: serif, color: '#222',
      formatter: function (v) { return v === 0 ? '{z|0}' : String(v); },
      rich: { z: { fontSize: 16, fontFamily: serif, color: '#222', padding: [0, 10, 0, 0] } }
    },
    splitLine: { show: false },
    name: 'φ', nameLocation: 'end', nameGap: 2,
    nameTextStyle: { fontFamily: serif, fontSize: 20, fontStyle: 'italic', color: '#222', align: 'left', verticalAlign: 'bottom', padding: [0, 0, 6, 0] }
  }, {
    type: 'value', min: -187, max: 184.5, position: 'top', offset: -87,
    axisLine: { show: false, onZero: false },
    axisTick: { show: true, length: 8, customValues: xTickValues, lineStyle: { color: axisColor, width: 2 } },
    axisLabel: { show: false },
    splitLine: { show: false }
  }],
  yAxis: [{
    type: 'value', min: -50.7, max: 13.7, position: 'left', offset: -380.2,
    axisLine: { onZero: false, symbol: ['none', 'arrow'], symbolSize: [8, 11], lineStyle: { color: axisColor, width: 2 } },
    axisTick: { show: true, length: 8, customValues: yTickValues, lineStyle: { color: axisColor, width: 2 } },
    axisLabel: { customValues: yTickValues, margin: 11, fontSize: 16, fontFamily: serif, color: '#222' },
    splitLine: { show: false },
    name: '{s|σ}{c|, }{d|dB}', nameLocation: 'end', nameGap: -9,
    nameTextStyle: {
      align: 'left', verticalAlign: 'middle', padding: [0, 0, 0, 10],
      rich: {
        s: { fontFamily: serif, fontSize: 21, fontStyle: 'italic', color: '#111' },
        c: { fontFamily: serif, fontSize: 21, fontStyle: 'italic', color: '#111' },
        d: { fontFamily: serif, fontSize: 21, fontStyle: 'italic', fontWeight: 'bold', color: '#111' }
      }
    }
  }, {
    type: 'value', min: -50.7, max: 13.7, position: 'right', offset: -375.1,
    axisLine: { show: false, onZero: false },
    axisTick: { show: true, length: 8, customValues: yTickValues, lineStyle: { color: axisColor, width: 2 } },
    axisLabel: { show: false },
    splitLine: { show: false }
  }],
  series: [{
    name: 'physical experiment', type: 'scatter', symbol: 'circle', symbolSize: 6,
    itemStyle: { color: '#000' },
    data: experiment, z: 2
  }, {
    name: 'numerical simulation', type: 'line', symbol: 'none', showSymbol: false,
    smooth: 0.35, lineStyle: { color: '#858585', width: 2 }, itemStyle: { color: '#858585' },
    data: simulation, z: 3
  }]
};
chart.setOption(option);
</script>
</body>
</html>
